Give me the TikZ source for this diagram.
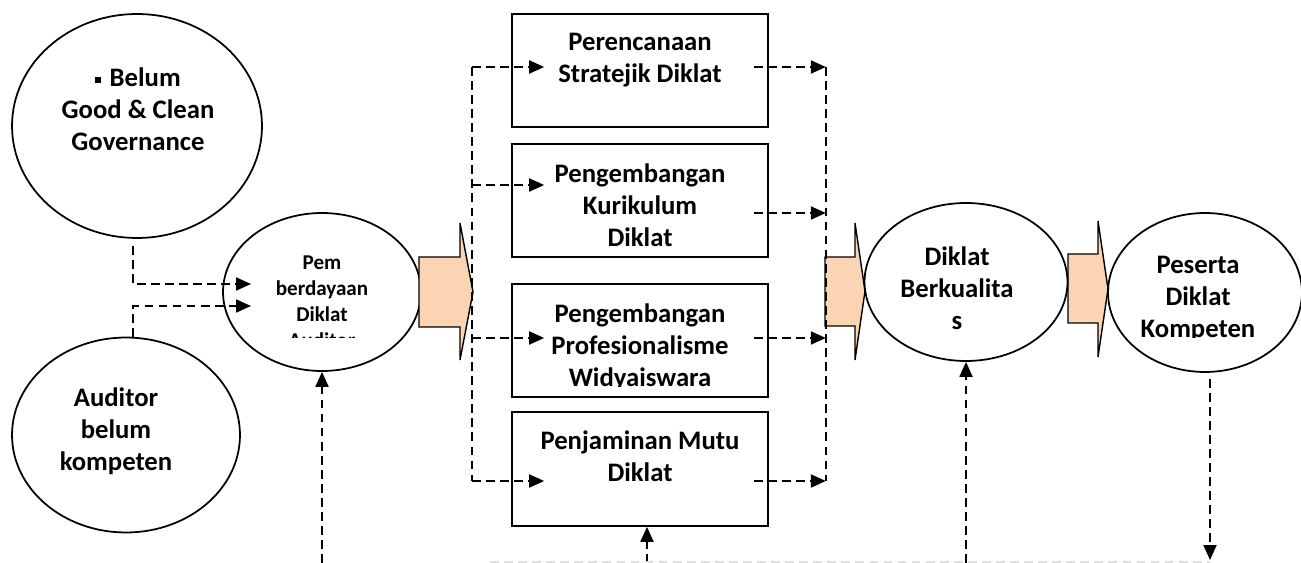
\documentclass[tikz,border=0pt]{standalone}
\usepackage{fontspec}
\setmainfont{Carlito}
\usetikzlibrary{shapes.geometric,arrows.meta,positioning}
\definecolor{peach}{HTML}{FBD4B4}

\tikzset{
  elips/.style={ellipse, draw, fill=white, line width=1pt, inner sep=0pt},
  kotak/.style={rectangle, draw, line width=1pt, minimum width=5.12cm, minimum height=2.26cm, inner sep=0pt},
  teks/.style={align=center, inner sep=0pt, anchor=north, font=\fontsize{15.2}{18.2}\selectfont\bfseries},
  tekskecil/.style={teks, font=\fontsize{12}{14.8}\selectfont\bfseries},
  putus/.style={dash pattern=on 5pt off 3pt, line width=1pt},
  panah/.style={putus, -{Triangle[length=8.5pt,width=7.4pt]}},
  blok/.style={draw, fill=peach, line width=0.8pt, line join=miter},
}

\begin{document}
\begin{tikzpicture}[x=0.02cm, y=-0.02cm]
\useasboundingbox (0,0) rectangle (1301,563);

% Lingkaran kiri
\node[elips, minimum width=5cm, minimum height=4.48cm] (belum) at (137,126) {};
\node[teks] (tbelum) at (138,67) {\raisebox{1.8pt}{\rule{3.2pt}{3.2pt}}\hspace{5pt}Belum\\Good \& Clean\\Governance};
\node[elips, minimum width=4.56cm, minimum height=3.9cm] (auditor) at (126,435) {};
\node[teks] (tauditor) at (116,387) {Auditor\\belum\\kompeten};

% Pemberdayaan
\node[elips, minimum width=3.96cm, minimum height=3.16cm] (pemb) at (322,292) {};
\begin{scope}
\clip (223,200) rectangle (421,338);
\node[tekskecil] (tpemb) at (322,255.5) {Pem\\berdayaan\\Diklat\\Auditor};
\end{scope}

% Panah blok
\draw[blok] (419,257) -- (460,257) -- (460,223) -- (473,292) -- (460,360) -- (460,327) -- (419,327) -- cycle;
\draw[blok] (825,257) -- (855,257) -- (855,223) -- (865,291) -- (855,360) -- (855,326) -- (825,326) -- cycle;
\draw[blok] (1068,254) -- (1098,254) -- (1098,221) -- (1108,289) -- (1098,357) -- (1098,323) -- (1068,323) -- cycle;

% Kotak program
\node[kotak] (renstra) at (640,70.5) {};
\node[teks, below=0.4cm of renstra.north] (trenstra) {Perencanaan\\Stratejik Diklat};
\node[kotak] (kurikulum) at (640,200.5) {};
\node[teks, below=0.4cm of kurikulum.north] (tkurikulum) {Pengembangan\\Kurikulum\\Diklat};
\node[kotak] (wi) at (640,340.5) {};
\begin{scope}
\clip (512,284) rectangle (768,387);
\node[teks, below=0.4cm of wi.north] (twi) {Pengembangan\\Profesionalisme\\Widyaiswara};
\end{scope}
\node[kotak, minimum height=2.28cm] (mutu) at (640,469) {};
\node[teks, below=0.38cm of mutu.north] (tmutu) {Penjaminan Mutu\\Diklat};

% Hasil
\node[elips, minimum width=4.06cm, minimum height=3.16cm] (kualitas) at (966,282) {};
\node[teks] (tkualitas) at (957,246) {Diklat\\Berkualita\\s};
\node[elips, minimum width=3.88cm, minimum height=3.18cm] (peserta) at (1205,292.5) {};
\begin{scope}
\clip (1108,200) rectangle (1301,338);
\node[teks] (tpeserta) at (1198,256) {Peserta\\Diklat\\Kompeten};
\end{scope}

% Masukan
\coordinate (m1) at (251,284);
\coordinate (m2) at (251,306);
\draw[panah] ([shift={(-4,7)}]belum.south) |- (m1);
\draw[panah] ([shift={(7,0)}]auditor.north) |- (m2);

% Sebaran ke kotak
\draw[putus] ([shift={(-39,-3.5)}]renstra.west) -- ([shift={(-39,12)}]mutu.west);
\foreach \k/\dy in {renstra/-3.5,kurikulum/-15.5,wi/-2.5,mutu/12}
  \draw[panah] ([shift={(-39,\dy)}]\k.west) -- ++(72,0);
\draw[putus] ([shift={(57,-3.5)}]renstra.east) -- ([shift={(57,12)}]mutu.east);
\foreach \k/\dy in {renstra/-3.5,kurikulum/12.5,wi/-2.5,mutu/12}
  \draw[panah] ([shift={(-15,\dy)}]\k.east) -- ++(72,0);

% Umpan balik
\draw[panah] (pemb.south |- 0,563) -- (pemb.south);
\draw[panah] ([shift={(7,0)}]mutu.south |- 0,563) -- ([shift={(7,0)}]mutu.south);
\draw[panah] (kualitas.south |- 0,563) -- (kualitas.south);
\coordinate (ujung) at (1210,560);
\draw[panah] ([shift={(5,6)}]peserta.south) -- (ujung);
\draw[putus, line width=0.6pt, black!12] (490,562) -- (ujung |- 0,562);
\end{tikzpicture}
\end{document}
